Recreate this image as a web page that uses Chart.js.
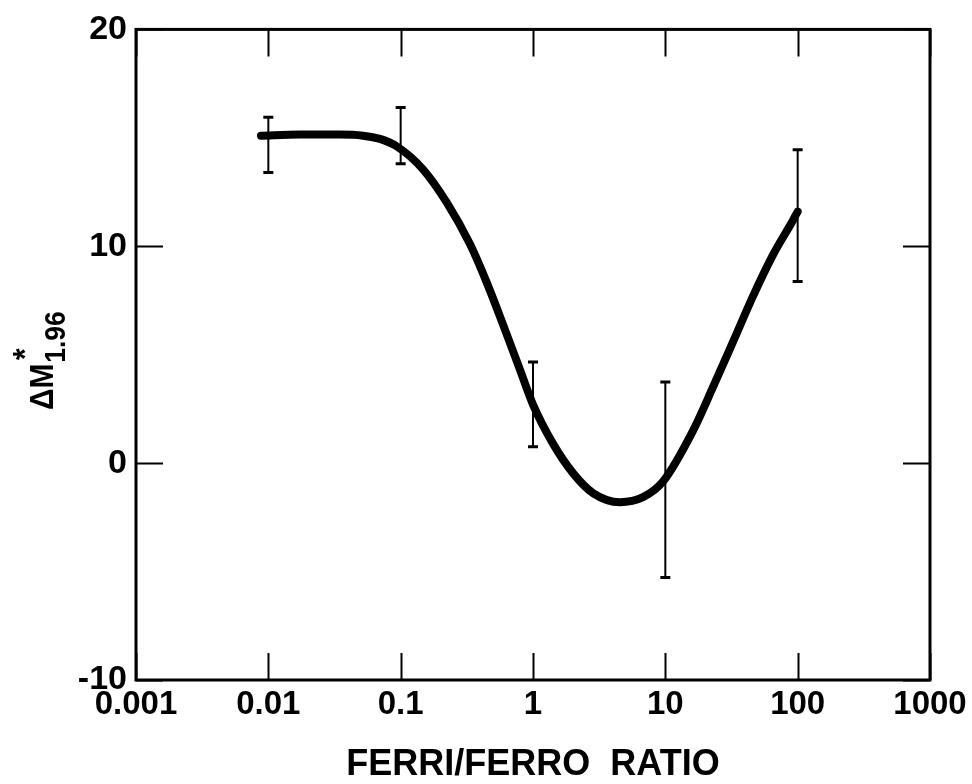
<!DOCTYPE html>
<html>
<head>
<meta charset="utf-8">
<title>Delta M* vs ferri/ferro ratio</title>
<script src="https://cdn.jsdelivr.net/npm/chart.js@4.4.1/dist/chart.umd.min.js"></script>
<style>
  html, body { margin: 0; padding: 0; background: #ffffff; }
  canvas { display: block; }
</style>
</head>
<body>
<canvas id="chart" width="972" height="784"></canvas>
<script>
// Decade ticks on the ratio axis
const xTickValues = [0.001, 0.01, 0.1, 1, 10, 100, 1000];
const xTickLabels = ['0.001', '0.01', '0.1', '1', '10', '100', '1000'];

// Ticks on the ΔM* axis
const yTickValues = [-10, 0, 10, 20];
const yTickLabels = ['-10', '0', '10', '20'];

// Smoothed fit curve
const curveX = [0.0088, 0.0173, 0.0348, 0.0519, 0.0698, 0.0938, 0.1475, 0.224, 0.334, 0.449,
                0.593, 0.798, 1.0, 1.416, 2.006, 2.84, 4.54, 6.78, 9.6, 16.2,
                22.9, 32.5, 46.0, 65.1, 92.2, 100];
const curveY = [15.1, 15.15, 15.15, 15.1, 14.95, 14.6, 13.55, 12.0, 10.1, 8.3,
                6.4, 4.3, 2.7, 0.9, -0.46, -1.38, -1.8, -1.57, -0.85, 1.5,
                3.5, 5.6, 7.7, 9.6, 11.2, 11.6];

// Measured ranges (error bars)
const errX = [0.01, 0.1, 1, 10, 100];
const errHigh = [15.95, 16.4, 4.66, 3.74, 14.45];
const errLow = [13.4, 13.8, 0.75, -5.27, 8.37];

const FONT = '"Liberation Sans", Arial, Helvetica, sans-serif';

// Frame with inward tick marks on all four sides
const framePlugin = {
  id: 'frame',
  afterDraw(chart) {
    const { ctx, chartArea: a, scales } = chart;
    ctx.save();
    ctx.strokeStyle = '#000';
    ctx.lineWidth = 2;
    const len = 27;
    xTickValues.forEach(v => {
      const px = Math.round(scales.x.getPixelForValue(v)) + 0.5;
      ctx.beginPath();
      ctx.moveTo(px, a.bottom); ctx.lineTo(px, a.bottom - len);
      ctx.moveTo(px, a.top); ctx.lineTo(px, a.top + len);
      ctx.stroke();
    });
    yTickValues.forEach(v => {
      const py = Math.round(scales.y.getPixelForValue(v)) + 0.5;
      ctx.beginPath();
      ctx.moveTo(a.left, py); ctx.lineTo(a.left + len, py);
      ctx.moveTo(a.right, py); ctx.lineTo(a.right - len, py);
      ctx.stroke();
    });
    ctx.lineWidth = 3;
    ctx.strokeRect(a.left, a.top, a.right - a.left, a.bottom - a.top);
    ctx.restore();
  }
};

// Vertical error bars with short caps
const errorBarPlugin = {
  id: 'errorBars',
  beforeDatasetsDraw(chart) {
    const { ctx, scales } = chart;
    ctx.save();
    ctx.strokeStyle = '#000';
    errX.forEach((xv, i) => {
      const px = scales.x.getPixelForValue(xv);
      const yh = scales.y.getPixelForValue(errHigh[i]);
      const yl = scales.y.getPixelForValue(errLow[i]);
      ctx.lineWidth = 2;
      ctx.beginPath();
      ctx.moveTo(px, yh); ctx.lineTo(px, yl);
      ctx.stroke();
      ctx.lineWidth = 3;
      ctx.beginPath();
      ctx.moveTo(px - 5, yh); ctx.lineTo(px + 5, yh);
      ctx.moveTo(px - 5, yl); ctx.lineTo(px + 5, yl);
      ctx.stroke();
    });
    ctx.restore();
  }
};

// Rotated y-axis title: ΔM with superscript * and subscript 1.96
const yTitleMain = 'ΔM';
const yTitleSup = '*';
const yTitleSub = '1.96';
const yTitlePlugin = {
  id: 'yTitle',
  afterDraw(chart) {
    const { ctx } = chart;
    ctx.save();
    ctx.fillStyle = '#000';
    ctx.translate(53, 410);
    ctx.rotate(-Math.PI / 2);
    ctx.scale(0.88, 1);
    ctx.textBaseline = 'alphabetic';
    ctx.textAlign = 'left';
    ctx.font = 'bold 34px ' + FONT;
    ctx.fillText(yTitleMain, 0, 0);
    const w = ctx.measureText(yTitleMain).width;
    ctx.fillText(yTitleSup, w + 4, -17);
    ctx.font = 'bold 30px ' + FONT;
    ctx.fillText(yTitleSub, w + 1, 12);
    ctx.restore();
  }
};

new Chart(document.getElementById('chart'), {
  type: 'line',
  data: {
    datasets: [{
      data: curveX.map((x, i) => ({ x, y: curveY[i] })),
      borderColor: '#000',
      borderWidth: 8,
      borderCapStyle: 'round',
      borderJoinStyle: 'round',
      pointRadius: 0,
      cubicInterpolationMode: 'monotone',
      fill: false
    }]
  },
  options: {
    responsive: false,
    animation: false,
    devicePixelRatio: 1,
    layout: { padding: { top: 27, right: 42, bottom: 0, left: 0 } },
    plugins: { legend: { display: false }, tooltip: { enabled: false } },
    scales: {
      x: {
        type: 'logarithmic',
        min: 0.001,
        max: 1000,
        afterBuildTicks(scale) { scale.ticks = xTickValues.map(v => ({ value: v })); },
        afterFit(scale) { scale.height = 104; },
        grid: { display: false, drawTicks: false },
        border: { display: false },
        ticks: {
          color: '#000',
          padding: 5,
          maxRotation: 0,
          autoSkip: false,
          font: { family: FONT, size: 33, weight: 'bold' },
          callback(value, index) { return xTickLabels[index]; }
        },
        title: {
          display: true,
          text: 'FERRI/FERRO  RATIO',
          color: '#000',
          font: { family: FONT, size: 36, weight: 'bold', lineHeight: 1 },
          padding: { top: 0, bottom: 1 }
        }
      },
      y: {
        min: -10,
        max: 20,
        afterBuildTicks(scale) { scale.ticks = yTickValues.map(v => ({ value: v })); },
        afterFit(scale) { scale.width = 136; },
        grid: { display: false, drawTicks: false },
        border: { display: false },
        ticks: {
          color: '#000',
          padding: 9,
          font: { family: FONT, size: 34, weight: 'bold' },
          callback(value, index) { return yTickLabels[index]; }
        }
      }
    }
  },
  plugins: [errorBarPlugin, framePlugin, yTitlePlugin]
});
</script>
</body>
</html>
